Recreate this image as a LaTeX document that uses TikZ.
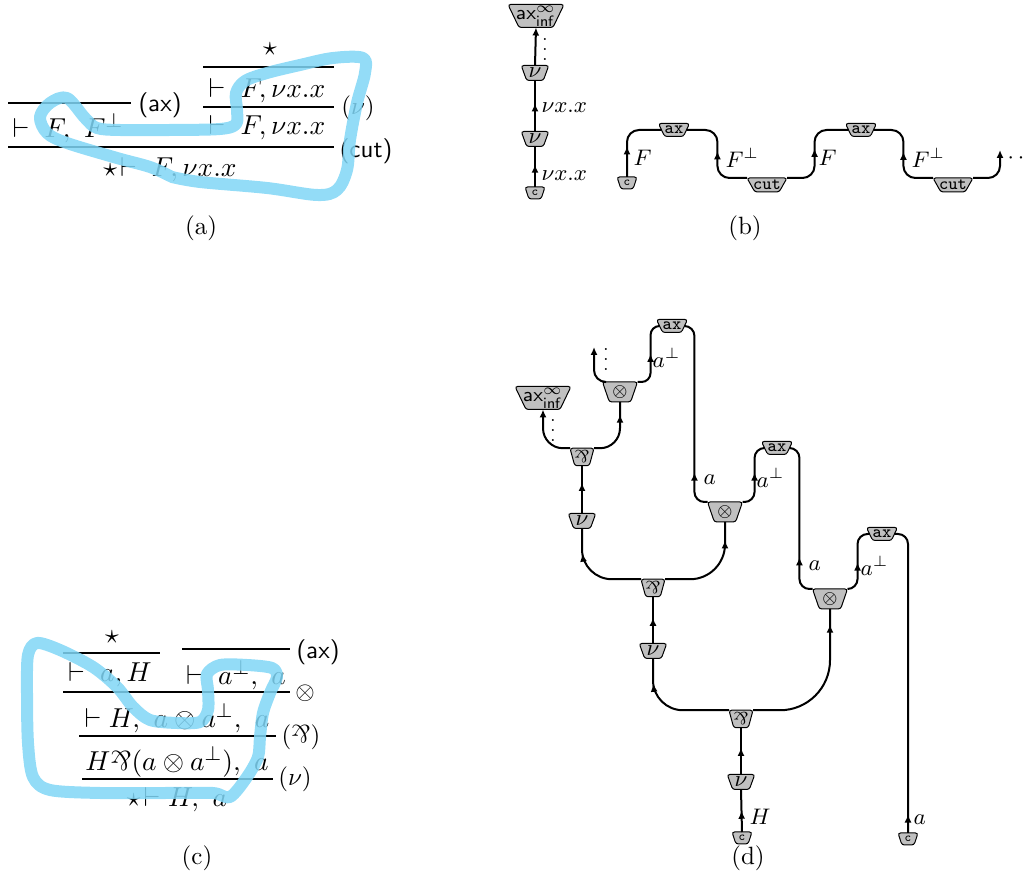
\documentclass[tikz,border=0pt]{standalone}
\usetikzlibrary{shapes.geometric,arrows.meta,decorations.markings,calc}
\definecolor{hl}{RGB}{128,214,246}
\definecolor{gatefill}{RGB}{192,192,192}
\newcommand{\mypar}{\mathbin{\rotatebox[origin=c]{180}{$\&$}}}
\newcommand{\zc}[1]{\makebox[0pt]{\raisebox{\dimexpr0.5\depth-0.5\height\relax}[0pt][0pt]{#1}}}
\tikzset{
  gate/.style={trapezium, trapezium left angle=108, trapezium right angle=108,
    trapezium stretches=true, draw=black, line width=0.4pt, fill=gatefill,
    rounded corners=1pt, inner sep=0.5pt, outer sep=0pt},
  cg/.style={gate, minimum width=8pt, minimum height=4.8pt, font=\ttfamily\tiny},
  axg/.style={gate, minimum width=12.4pt, minimum height=5.2pt, font=\ttfamily\scriptsize},
  cutg/.style={gate, minimum width=16pt, minimum height=5.6pt, font=\ttfamily\scriptsize},
  nug/.style={gate, minimum width=11pt, minimum height=6pt, font=\small},
  teng/.style={gate, minimum width=14pt, minimum height=8pt, font=\scriptsize},
  parg/.style={gate, minimum width=9.6pt, minimum height=7pt, font=\scriptsize},
  infg/.style={gate, minimum width=22.4pt, minimum height=9.2pt, font=\footnotesize},
  wire/.style={line width=0.8pt},
  ma/.style={postaction={decorate}, decoration={markings,
     mark=at position #1 with {\arrow{Latex[length=3.2pt,width=2.8pt]}}}},
  endarrow/.style={-{Latex[length=3.2pt,width=2.8pt]}},
  lab/.style={font=\small, anchor=west, inner sep=0pt},
  prule/.style={line width=0.45pt},
  seq/.style={font=\fontsize{11}{13}\selectfont, inner sep=0pt},
  rlab/.style={inner sep=0pt},
  vd/.style={inner sep=0pt, font=\scriptsize},
  band/.style={draw=hl, line width=4.8pt, line cap=round, line join=round, opacity=0.85},
}
\begin{document}
\begin{tikzpicture}[x=0.4pt,y=-0.4pt]
\useasboundingbox (0,0) rectangle (1028,878);

% ---------------- (a) ----------------
\node[seq] (astar) at (270,49) {$\star$};
\draw[prule] (203,67) -- (334,67);
\node[seq] (as1) at (267,91) {$\vdash\; F, \nu x.x$};
\draw[prule] (203,107) -- (334,107);
\node[rlab] (anu) at (358,108) {$(\nu)$};
\node[seq] (as2) at (267,128) {$\vdash\; F, \nu x.x$};
\draw[prule] (8,103) -- (131,103);
\node[rlab] (aax) at (160,105) {\textsf{(ax)}};
\node[seq] (as3) at (68,128) {$\vdash\; F,\ F^\perp$};
\draw[prule] (8,147) -- (334,147);
\node[rlab] (acut) at (366,151) {\textsf{(cut)}};
\node[seq] (as4) at (170,170) {$\star\!\vdash\; F, \nu x.x$};
\node (capa) at (201,228) {(a)};
\draw[band] plot[smooth, tension=0.55] coordinates {
 (172,177) (200,182) (267,188) (317,195) (337,190) (347,170) (350,140) (357,103)
 (365,73) (363,58) (333,58) (300,65) (267,73) (245,81) (236,93) (237,110) (236,124)
 (220,129) (170,130) (120,130) (97,128) (85,118) (67,98) (50,103) (40,117) (47,133)
 (67,143) (117,158) (150,167) (170,176)};

% ---------------- (b) ----------------
\node[infg] (binf) at (536,16) {\zc{$\mathsf{ax}^{\infty}_{\mathsf{inf}}$}};
\node[nug] (bnu1) at (535,73) {\zc{$\nu$}};
\node[nug] (bnu2) at (535,139) {\zc{$\nu$}};
\node[cg] (bc) at (535,193) {\zc{c}};
\draw[wire, ma=0.55] (bc.north) -- (bnu2.south);
\draw[wire, ma=0.55] (bnu2.north) -- (bnu1.south);
\draw[wire, endarrow] (bnu1.north) -- (binf.south);
\node[vd] (bdots) at (545,42) {$\vdots$};
\node[lab] (bl1) at (541,108) {$\nu x.x$};
\node[lab] (bl2) at (541,176) {$\nu x.x$};

\node[cg] (bc2) at (627,183) {\zc{c}};
\node[axg] (bax1) at (674,130) {\zc{ax}};
\node[cutg] (bcut1) at (767,185) {\zc{cut}};
\node[axg] (bax2) at (861,130) {\zc{ax}};
\node[cutg] (bcut2) at (953,185) {\zc{cut}};
\coordinate (bend) at (1000,150);
\draw[wire, ma=0.4, rounded corners=4.8pt] (bc2.north) |- (bax1.west);
\draw[wire, ma=0.52, rounded corners=4.8pt] (bcut1.top left corner) -| ($(bax1.east)+(31,0)$) -- (bax1.east);
\draw[wire, ma=0.52, rounded corners=4.8pt] (bcut1.top right corner) -| ($(bax2.west)+(-34,0)$) -- (bax2.west);
\draw[wire, ma=0.52, rounded corners=4.8pt] (bcut2.top left corner) -| ($(bax2.east)+(30,0)$) -- (bax2.east);
\draw[wire, endarrow, rounded corners=4.8pt] (bcut2.top right corner) -| (bend);
\node[lab] (bf1) at (633,158) {$F$};
\node[lab] (bf2) at (725,158) {$F^\perp$};
\node[lab] (bf3) at (818,158) {$F$};
\node[lab] (bf4) at (911,158) {$F^\perp$};
\node[lab] (bdots2) at (1007,158) {$\cdots$};
\node (capb) at (745,228) {(b)};

% ---------------- (c) ----------------
\node[seq] (cstar) at (112,637) {$\star$};
\draw[prule] (63,653) -- (160,653);
\draw[prule] (182,649) -- (290,649);
\node[rlab] (cax) at (318,652) {\textsf{(ax)}};
\node[seq] (cs1) at (110,675) {$\vdash\; a, H$};
\node[seq] (cs2) at (236,675) {$\vdash\; a^\perp,\ a$};
\draw[prule] (63,692) -- (290,692);
\node[rlab] (cten) at (305,693) {$\otimes$};
\node[seq] (cs3) at (177,718) {$\vdash H,\ a\otimes a^\perp,\ a$};
\draw[prule] (79,736) -- (276,736);
\node[rlab] (cpar) at (301,737) {$({\mypar})$};
\node[seq] (cs4) at (177,762) {$H{\mypar}(a\otimes a^\perp),\ a$};
\draw[prule] (82,779) -- (273,779);
\node[rlab] (cnu) at (295,779) {$(\nu)$};
\node[seq] (cs5) at (177,800) {$\star\!\vdash H,\ a$};
\node (capc) at (197,858) {(c)};
\draw[band] plot[smooth cycle, tension=0.5] coordinates {
 (230,797) (247,777) (258,757) (260,737) (263,713) (270,693) (277,677) (272,668)
 (247,665) (220,665) (207,674) (208,690) (208,710) (200,722) (177,723) (150,720)
 (133,707) (117,687) (93,667) (60,650) (37,643) (28,655) (27,693) (28,743) (33,777)
 (50,790) (100,793) (167,793) (213,793)};

% ---------------- (d) ----------------
\node[infg] (dinf) at (543,398) {\zc{$\mathsf{ax}^{\infty}_{\mathsf{inf}}$}};
\node[teng] (tenA) at (620,392) {\zc{$\otimes$}};
\node[axg] (axA) at (672,326) {\zc{ax}};
\node[parg] (parA) at (582,457) {\zc{$\mypar$}};
\node[nug] (nuA) at (582,521) {\zc{$\nu$}};
\node[teng] (tenB) at (725,512) {\zc{$\otimes$}};
\node[axg] (axB) at (777,448) {\zc{ax}};
\node[parg] (parB) at (653,588) {\zc{$\mypar$}};
\node[nug] (nuB) at (653,651) {\zc{$\nu$}};
\node[teng] (tenC) at (830,599) {\zc{$\otimes$}};
\node[axg] (axC) at (882,534) {\zc{ax}};
\node[parg] (parC) at (741,719) {\zc{$\mypar$}};
\node[nug] (nuC) at (741,782) {\zc{$\nu$}};
\node[cg] (cH) at (742,838) {\zc{c}};
\node[cg] (cA) at (908,839) {\zc{c}};
\coordinate (dA) at (594,347);

\draw[wire, endarrow, rounded corners=4.8pt] (tenA.top left corner) -| (dA);
\draw[wire, ma=0.53, rounded corners=3.6pt] (tenA.top right corner) -| ($(axA.west)+(-9,0)$) -- (axA.west);
\draw[wire, ma=0.2, rounded corners=4pt] (tenB.top left corner) -| ($(axA.east)+(10,0)$) -- (axA.east);
\draw[wire, endarrow, rounded corners=8pt] (parA.top left corner) -| (dinf.south);
\draw[wire, ma=0.8, rounded corners=8pt] (parA.top right corner) -| (tenA.south);
\draw[wire, ma=0.64] (nuA.north) -- (parA.south);
\draw[wire, ma=0.74, rounded corners=12pt] (parB.top left corner) -| (nuA.south);
\draw[wire, ma=0.82, rounded corners=14pt] (parB.top right corner) -| (tenB.south);
\draw[wire, ma=0.55] (nuB.north) -- (parB.south);
\draw[wire, ma=0.26, rounded corners=4pt] (tenC.top left corner) -| ($(axB.east)+(10,0)$) -- (axB.east);
\draw[wire, ma=0.55, rounded corners=4pt] (tenB.top right corner) -| ($(axB.west)+(-10,0)$) -- (axB.west);
\draw[wire, ma=0.47, rounded corners=4pt] (tenC.top right corner) -| ($(axC.west)+(-12,0)$) -- (axC.west);
\draw[wire, ma=0.78, rounded corners=12pt] (parC.top left corner) -| (nuB.south);
\draw[wire, ma=0.9, rounded corners=20pt] (parC.top right corner) -| (tenC.south);
\draw[wire, ma=0.57] (nuC.north) -- (parC.south);
\draw[wire, ma=0.5] (cH.north) -- (nuC.south);
\draw[wire, ma=0.06, rounded corners=4pt] (cA.north) |- (axC.east);

\node[vd] (ddots1) at (606,352) {$\vdots$};
\node[vd] (ddots2) at (553,423) {$\vdots$};
\node[lab] (dl1) at (652,358) {$a^\perp$};
\node[lab] (dl2) at (703,480) {$a$};
\node[lab] (dl3) at (756,478) {$a^\perp$};
\node[lab] (dl4) at (808,566) {$a$};
\node[lab] (dl5) at (860,566) {$a^\perp$};
\node[lab] (dl6) at (749,817) {$H$};
\node[lab] (dl7) at (913,820) {$a$};
\node (capd) at (748,858) {(d)};
\end{tikzpicture}
\end{document}
